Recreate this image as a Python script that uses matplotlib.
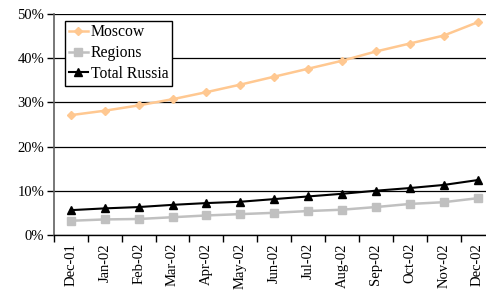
import matplotlib
matplotlib.use('Agg')
import matplotlib.pyplot as plt
import numpy as np
from matplotlib.ticker import FuncFormatter

months = ['Dec-01', 'Jan-02', 'Feb-02', 'Mar-02', 'Apr-02', 'May-02', 'Jun-02',
          'Jul-02', 'Aug-02', 'Sep-02', 'Oct-02', 'Nov-02', 'Dec-02']
moscow = [27.1, 28.1, 29.3, 30.7, 32.3, 34.0, 35.8, 37.6, 39.4, 41.5, 43.3, 45.1, 48.1]
regions = [3.2, 3.5, 3.6, 4.0, 4.4, 4.7, 5.0, 5.4, 5.7, 6.3, 7.0, 7.4, 8.3]
total_russia = [5.6, 6.0, 6.3, 6.8, 7.2, 7.5, 8.1, 8.7, 9.3, 10.0, 10.6, 11.3, 12.4]

plt.rcParams['font.family'] = ['Liberation Serif', 'DejaVu Serif']
plt.rcParams['font.size'] = 10.5

fig = plt.figure(figsize=(4.86, 2.90), dpi=100)
ax = fig.add_axes([0.111, 0.19, 0.889, 0.762])

x = np.arange(len(months))
ax.plot(x, moscow, color='#FFC891', marker='D', markersize=4.5, linewidth=1.8, label='Moscow')
ax.plot(x, regions, color='#C0C0C0', marker='s', markersize=5.5, linewidth=1.8, label='Regions')
ax.plot(x, total_russia, color='black', marker='^', markersize=6, linewidth=1.5, label='Total Russia')

ax.set_xlim(-0.5, 12.25)
ax.set_ylim(0, 50)
ax.set_yticks(np.arange(0, 51, 10))
ax.yaxis.set_major_formatter(FuncFormatter(lambda v, p: '%d%%' % v))
ax.grid(axis='y', color='black', linewidth=0.9)
ax.set_axisbelow(True)

ax.set_xticks(x)
ax.set_xticklabels(months, rotation=90)
ax.set_xticks(np.arange(-0.5, 12.5, 1), minor=True)
ax.tick_params(axis='x', which='major', length=0, pad=6)
ax.tick_params(axis='x', which='minor', length=5, width=1, direction='out')
ax.tick_params(axis='y', length=5, width=1, direction='out', pad=2)

for s in ['top', 'right']:
    ax.spines[s].set_visible(False)
ax.spines['left'].set_color('#606060')
ax.spines['left'].set_linewidth(1.2)
ax.spines['bottom'].set_color('black')
ax.spines['bottom'].set_linewidth(1.0)

leg = ax.legend(loc='upper left', bbox_to_anchor=(0.025, 0.97), frameon=True, fancybox=False,
                edgecolor='black', framealpha=1, fontsize=11.3, borderpad=0.25, labelspacing=0.3,
                handlelength=1.25, handletextpad=0.15, borderaxespad=0)
leg.get_frame().set_linewidth(1.0)

plt.savefig('out.png', dpi=100)
